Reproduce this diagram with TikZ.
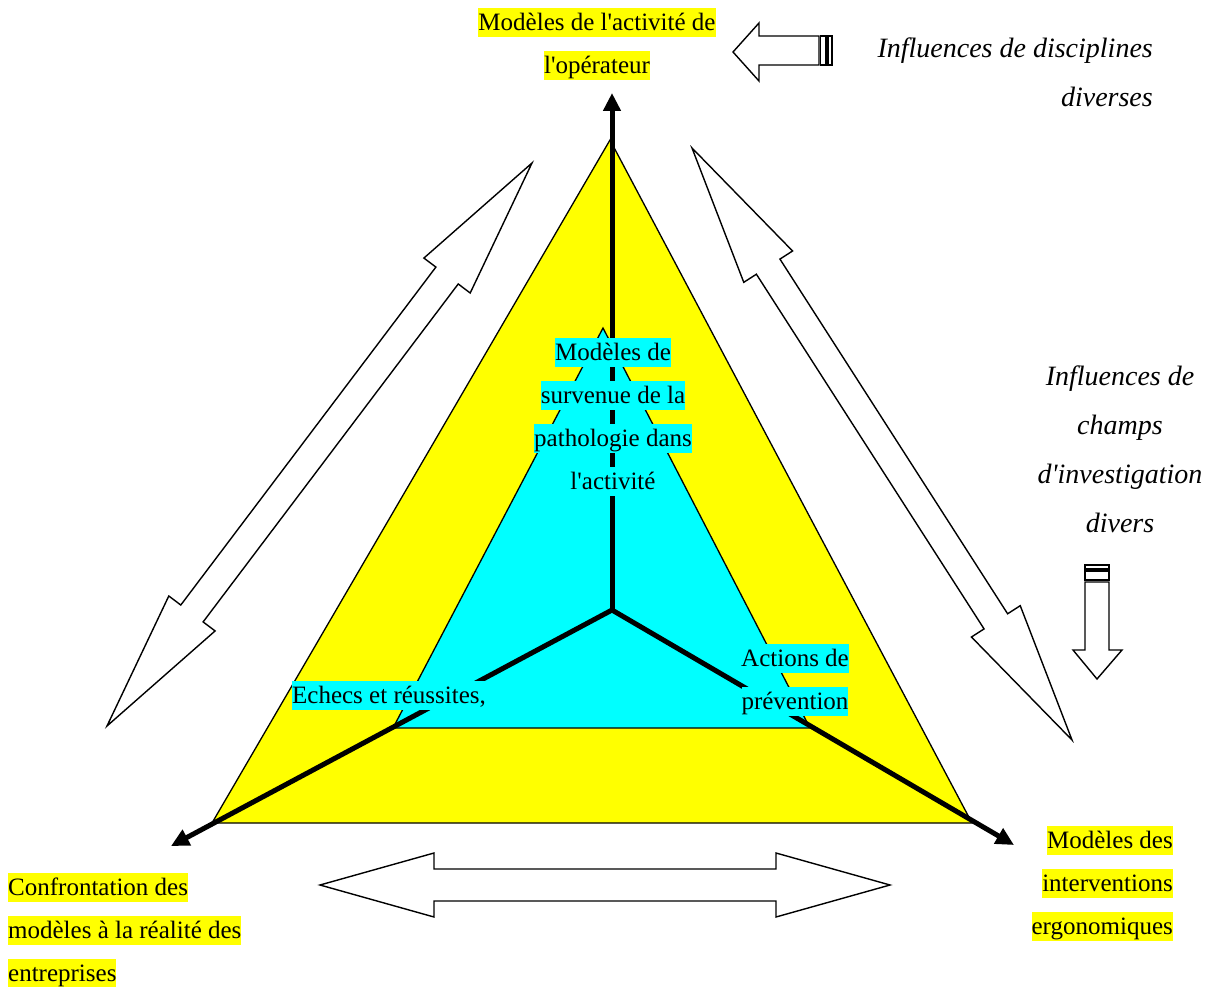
\documentclass[tikz,border=0pt]{standalone}
\usepackage{fontspec}
\setmainfont{Liberation Serif}
\usetikzlibrary{calc,arrows.meta}
\definecolor{hlyellow}{RGB}{255,255,0}
\definecolor{hlcyan}{RGB}{0,255,255}
\setlength{\fboxsep}{0pt}
\newcommand{\hlstrut}{\rule[-0.25em]{0pt}{1.14em}}
\newcommand{\hly}[1]{\colorbox{hlyellow}{\hlstrut#1}}
\newcommand{\hlc}[1]{\colorbox{hlcyan}{\hlstrut#1}}
\newcommand{\q}{\textquotesingle}
\newcommand{\dblarrow}[6]{%
  \coordinate (#1h1) at ($(#2)!#4!(#3)$);
  \coordinate (#1h2) at ($(#3)!#4!(#2)$);
  \draw[blockarrow] (#2) -- ($(#1h1)!#5!90:(#3)$) -- ($(#1h1)!#6!90:(#3)$)
    -- ($(#1h2)!#6!-90:(#2)$) -- ($(#1h2)!#5!-90:(#2)$) -- (#3)
    -- ($(#1h2)!#5!90:(#2)$) -- ($(#1h2)!#6!90:(#2)$)
    -- ($(#1h1)!#6!-90:(#3)$) -- ($(#1h1)!#5!-90:(#3)$) -- cycle;
}
\tikzset{
  blockarrow/.style={draw=black, fill=white, line width=1.4pt, line join=miter},
  tri/.style={draw=black, line width=1.3pt, line join=miter},
  axis/.style={line width=5pt, -{Triangle[length=18pt,width=17pt]}},
  lab/.style={inner sep=0pt, font=\fontsize{25}{43}\selectfont},
  ital/.style={inner sep=0pt, font=\fontsize{28}{49}\selectfont\itshape},
}
\begin{document}
\begin{tikzpicture}[x=1pt,y=-1pt]
\useasboundingbox (0,0) rectangle (1210,987);
\fill[white] (0,0) rectangle (1210,987);
% triangles
\draw[tri, fill=hlyellow] (610,140) -- (212,823) -- (972,823) -- cycle;
\draw[tri, fill=hlcyan] (603,328) -- (393,728) -- (810,728) -- cycle;
% axes
\coordinate (c) at (612,610);
\coordinate (topend) at (612,93);
\coordinate (blend) at (171,846);
\coordinate (brend) at (1014,845);
\draw[axis] (c) -- (topend);
\draw[axis] (c) -- (blend);
\draw[axis] (c) -- (brend);
% labels
\node[lab, anchor=north, align=center] (ltop) at (597,8)
  {\hly{Modèles de l\q activité de}\\\hly{l\q opérateur}};
\node[lab, anchor=north, align=center] (lsurv) at (613,338)
  {\hlc{Modèles de}\\\hlc{survenue de la}\\\hlc{pathologie dans}\\\hlc{l\q activité}};
\node[lab, anchor=north, align=center] (lech) at (389,681)
  {\hlc{Echecs et réussites,}};
\node[lab, anchor=north, align=center] (lact) at (795,644)
  {\hlc{Actions de}\\\hlc{prévention}};
\node[lab, anchor=north east, align=right] (lright) at (1173,826)
  {\hly{Modèles des}\\\hly{interventions}\\\hly{ergonomiques}};
\node[lab, anchor=north west, align=left] (lleft) at (8,873)
  {\hly{Confrontation des}\\\hly{modèles à la réalité des}\\\hly{entreprises}};
\node[ital, anchor=north east, align=right] (ldisc) at (1153,32)
  {\hlstrut Influences de disciplines\\\hlstrut diverses};
\node[ital, anchor=north, align=center] (lchamps) at (1120,360)
  {\hlstrut Influences de\\\hlstrut champs\\\hlstrut d\q investigation\\\hlstrut divers};
% double block arrows
\coordinate (la1) at (532,163); \coordinate (la2) at (107,726);
\dblarrow{L}{la1}{la2}{141pt}{29pt}{14pt}
\coordinate (ra1) at (692,148); \coordinate (ra2) at (1072,740);
\dblarrow{R}{ra1}{ra2}{141pt}{29pt}{14pt}
\coordinate (ba1) at (320,885); \coordinate (ba2) at (890,885);
\dblarrow{B}{ba1}{ba2}{114pt}{32pt}{16pt}
% striped arrow pointing left
\draw[blockarrow] (733,52) -- (759,23) -- (759,36) -- (819,36) -- (819,65) -- (759,65) -- (759,81) -- cycle;
\draw[blockarrow] (820.5,36) rectangle (826,65);
\draw[blockarrow] (828,36) rectangle (832,65);
% striped arrow pointing down
\draw[blockarrow] (1097,679) -- (1073,650) -- (1085,650) -- (1085,582) -- (1109,582) -- (1109,650) -- (1122,650) -- cycle;
\draw[blockarrow] (1085,571) rectangle (1109,580);
\draw[blockarrow] (1085,565) rectangle (1109,569);
\end{tikzpicture}
\end{document}
